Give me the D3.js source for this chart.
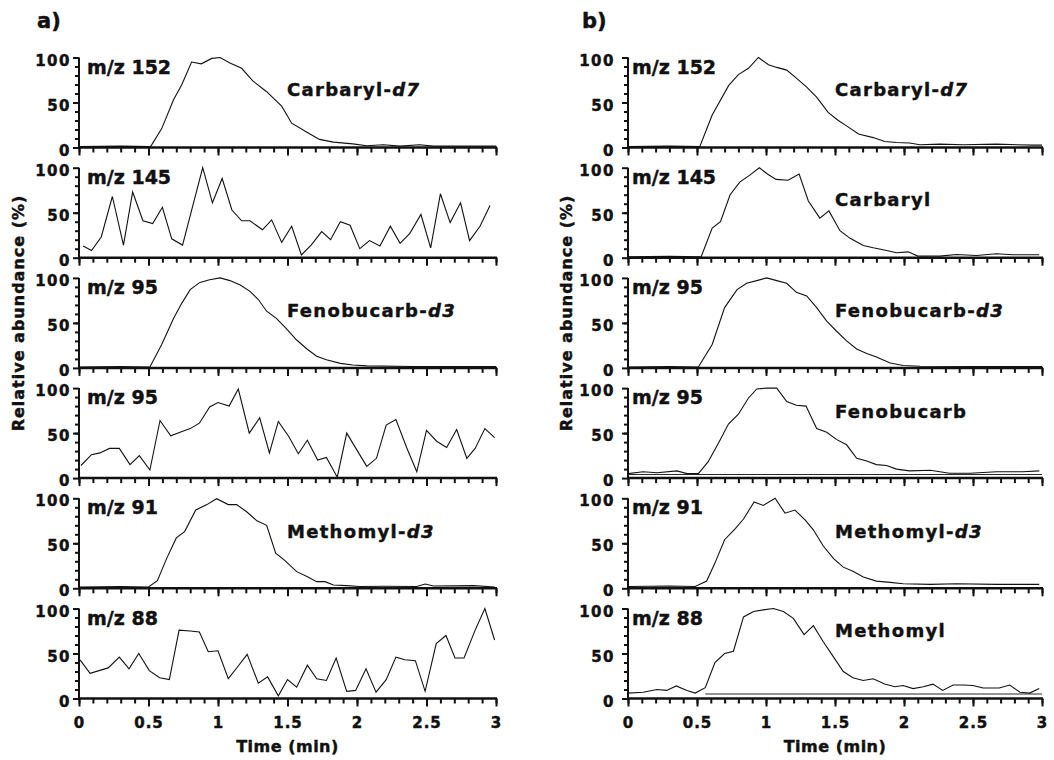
<!DOCTYPE html>
<html>
<head>
<meta charset="utf-8">
<script src="https://cdn.jsdelivr.net/npm/d3@7"></script>
<style>
  body { margin: 0; background: #fff; }
  svg text { font-family: "DejaVu Sans", sans-serif; font-weight: bold; fill: #111; stroke: #111; stroke-width: 0.45px; }
</style>
</head>
<body>
<svg id="chart" width="1054" height="760"></svg>
<script>
// traces, [time (min), relative abundance (%)]
// panel a
const a152 = [[0,1],[0.3,1.5],[0.515,1],[0.595,21],[0.68,53],[0.74,70],[0.81,95],[0.88,93],[0.955,99],[1.015,100],[1.086,94],[1.17,88],[1.25,74],[1.35,62],[1.458,46],[1.53,27],[1.64,17],[1.73,9],[1.83,6],[1.97,4],[2.07,2],[2.19,3],[2.31,1.5],[2.45,3],[2.55,1.5],[3,1.5]];
const a145 = [[0.03,13],[0.09,8],[0.16,23],[0.24,68],[0.32,14],[0.386,73],[0.46,41],[0.53,38],[0.6,56],[0.667,21],[0.745,14],[0.89,100],[0.96,61],[1.03,88],[1.1,53],[1.17,41],[1.23,41],[1.32,31],[1.386,42],[1.458,17],[1.53,35],[1.6,3],[1.67,14],[1.746,29],[1.81,20],[1.88,40],[1.95,36],[2.02,10],[2.09,19],[2.165,13],[2.24,35],[2.31,16],[2.38,27],[2.46,48],[2.53,11],[2.6,71],[2.67,39],[2.745,61],[2.81,19],[2.885,35],[2.957,58]];
const a95d3 = [[0,1],[0.3,1.5],[0.51,1],[0.595,26],[0.68,55],[0.74,72],[0.8,87],[0.87,95],[0.94,98],[1.015,100],[1.086,97],[1.16,92],[1.23,85],[1.29,76],[1.35,63],[1.42,55],[1.49,44],[1.566,31],[1.64,21],[1.71,13],[1.78,9],[1.88,5],[1.97,3.3],[2.07,2.2],[2.4,1.5],[3,1.5]];
const a95 = [[0.014,14],[0.09,26],[0.15,28],[0.22,33],[0.29,33],[0.367,15],[0.434,25],[0.51,9],[0.583,64],[0.66,47],[0.727,51],[0.8,55],[0.866,61],[0.94,79],[1.0,84],[1.08,80],[1.146,99],[1.225,50],[1.3,67],[1.37,28],[1.434,63],[1.51,46],[1.578,27],[1.643,42],[1.717,20],[1.78,23],[1.858,1],[1.926,50],[2.07,13],[2.14,22],[2.21,59],[2.28,65],[2.357,34],[2.43,7],[2.5,53],[2.573,41],[2.645,34],[2.717,54],[2.79,22],[2.85,33],[2.92,55],[2.99,45]];
const a91d3 = [[0,1.5],[0.3,2],[0.5,1.5],[0.564,8.5],[0.63,33],[0.7,56],[0.76,63],[0.84,87],[0.92,93],[0.99,99.5],[1.074,93],[1.134,93],[1.206,85],[1.28,75],[1.35,70],[1.415,39],[1.48,31],[1.566,18.5],[1.64,13],[1.71,7.4],[1.77,7.4],[1.83,3.7],[1.926,3],[2.02,2],[2.19,2.2],[2.43,2],[2.49,4.8],[2.55,2.6],[2.84,3],[2.99,1.5]];
const a88 = [[0.007,43],[0.08,28],[0.21,34],[0.29,46],[0.36,33],[0.43,50],[0.506,31],[0.58,23],[0.65,21],[0.72,76],[0.8,75],[0.866,74],[0.93,52],[1.0,53],[1.074,22],[1.14,35],[1.21,49],[1.29,17],[1.357,24],[1.434,3],[1.5,21],[1.566,12.5],[1.643,37],[1.71,22],[1.78,20],[1.85,45],[1.926,8],[1.99,9],[2.065,33],[2.137,7],[2.21,21],[2.28,46],[2.345,43],[2.42,42],[2.49,8],[2.57,61],[2.64,70],[2.705,45],[2.77,45],[2.85,76],[2.92,100],[2.99,65]];

// panel b
const b152 = [[0,1],[0.3,1.5],[0.52,1],[0.61,36],[0.73,69],[0.8,81],[0.873,88],[0.945,100],[1.018,92],[1.078,89],[1.15,86],[1.22,77],[1.295,67],[1.367,56],[1.45,39],[1.524,30],[1.584,24],[1.67,15],[1.777,11],[1.86,6.7],[1.946,5.6],[2.04,5],[2.115,3],[2.26,3.7],[2.43,3],[2.67,3.7],[2.93,2.6],[3,2.6]];
const b145 = [[0,1],[0.3,1.5],[0.53,1],[0.61,33],[0.67,40],[0.74,70],[0.81,84],[0.885,92],[0.952,100],[1.01,93],[1.073,87],[1.16,86],[1.24,93],[1.307,63],[1.39,44],[1.456,52],[1.536,30],[1.61,21.5],[1.705,13.5],[1.777,11],[1.874,8],[1.946,5.5],[2.03,6.5],[2.1,1.8],[2.26,1.8],[2.38,3.6],[2.525,2.5],[2.67,4.4],[2.79,3.3],[2.98,3.3]];
const b95d3 = [[0,1],[0.3,1.5],[0.51,1],[0.61,26],[0.7,67],[0.79,87],[0.86,94],[0.933,97],[1.005,100],[1.078,97],[1.15,94],[1.22,84],[1.295,80],[1.367,67],[1.44,52],[1.51,41],[1.584,30],[1.657,21],[1.73,16],[1.8,12],[1.9,5.5],[1.994,2.6],[2.115,1.8],[2.5,1.5],[3,1.5]];
const b95 = [[0,5],[0.11,7],[0.21,6],[0.355,8],[0.427,5],[0.51,5],[0.58,18],[0.656,39],[0.728,60],[0.8,71],[0.873,89],[0.933,99],[1.005,100],[1.078,100],[1.15,85],[1.22,81],[1.29,80],[1.367,55],[1.44,51],[1.51,43],[1.584,37],[1.657,22],[1.73,19],[1.8,15],[1.874,14],[1.946,10],[2.04,8],[2.19,8.7],[2.33,5.4],[2.48,5.4],[2.67,7],[2.86,7],[2.98,8]];
const b91d3 = [[0,2],[0.3,2.5],[0.487,2],[0.57,8],[0.63,28],[0.7,54],[0.776,66],[0.837,77],[0.914,96],[0.98,92],[1.066,100],[1.138,83.5],[1.21,87],[1.283,76],[1.343,65],[1.415,47],[1.49,33],[1.56,23.5],[1.63,19],[1.705,12.5],[1.8,8],[1.9,6.6],[1.994,5],[2.19,4.4],[2.38,5],[2.67,4.4],[2.98,4.4]];
const b88 = [[0,6],[0.11,7],[0.21,10],[0.28,9],[0.35,14],[0.427,9],[0.487,6],[0.56,12],[0.63,40],[0.7,50],[0.764,52.5],[0.837,90.6],[0.91,96.7],[0.98,98.5],[1.054,100],[1.126,96.7],[1.198,89],[1.276,71],[1.343,81],[1.415,63],[1.49,46],[1.56,30],[1.63,23],[1.705,20],[1.777,22],[1.86,16],[1.934,13],[1.994,14.5],[2.066,11],[2.14,13],[2.21,16],[2.28,9],[2.356,15],[2.43,15],[2.5,14.5],[2.573,11.6],[2.69,11.6],[2.766,15],[2.84,7],[2.91,6],[2.98,11]];

// flat background traces visible under some chromatograms
const b95base = [[0,4],[3,4]];
const b88base = [[0.56,5],[3,5]];

// labels
const mzA = ["m/z 152", "m/z 145", "m/z 95", "m/z 95", "m/z 91", "m/z 88"];
const mzB = ["m/z 152", "m/z 145", "m/z 95", "m/z 95", "m/z 91", "m/z 88"];
const nameA = [["Carbaryl-", "d7"], null, ["Fenobucarb-", "d3"], null, ["Methomyl-", "d3"], null];
const nameB = [["Carbaryl-", "d7"], ["Carbaryl", ""], ["Fenobucarb-", "d3"], ["Fenobucarb", ""], ["Methomyl-", "d3"], ["Methomyl", ""]];
const nameLevel = [57, 57, 57, 67, 56, 68];   // label baseline, in % of each row
const xTickLabels = [0, 0.5, 1, 1.5, 2, 2.5, 3];
const yTickLabels = [0, 50, 100];

const svg = d3.select("#chart");

const rowTop = i => 57.5 + i * 110.2;
const rowH = 90;

const panels = [
  {tag: "a)", tagX: 37, x0: 79, x1: 496, pad: 7, mzDx: 8, nameX: 287, labelX: 18,
   traces: [[a152], [a145], [a95d3], [a95], [a91d3], [a88]], mz: mzA, names: nameA},
  {tag: "b)", tagX: 582, x0: 628, x1: 1042, pad: 12, mzDx: 4, nameX: 835, labelX: 566,
   traces: [[b152], [b145], [b95d3], [b95, b95base], [b91d3], [b88, b88base]], mz: mzB, names: nameB}
];

panels.forEach(p => {
  var x = d3.scaleLinear().domain([0, 3]).range([p.x0, p.x1]);

  svg.append("text").attr("x", p.tagX).attr("y", 28)
    .style("font-size", "21px").text(p.tag);

  for (var i = 0; i < 6; i++) {
    var top = rowTop(i);
    var y = d3.scaleLinear().domain([0, 100]).range([top + rowH, top]);
    var g = svg.append("g");

    // traces
    var line = d3.line().x(d => x(d[0])).y(d => y(d[1]));
    p.traces[i].forEach((t, k) => {
      g.append("path").datum(t).attr("d", line)
        .attr("fill", "none").attr("stroke", "#111")
        .attr("stroke-width", k == 0 ? 1.1 : 0.9);
    });

    // x axis: minor ticks every 0.1, longer ones every 0.5
    var minorX = g.append("g").attr("transform", "translate(0," + (top + rowH) + ")")
      .call(d3.axisBottom(x).tickValues(d3.range(0, 3.01, 0.1)).tickSize(5).tickFormat(""));
    var majorX = g.append("g").attr("transform", "translate(0," + (top + rowH) + ")")
      .call(d3.axisBottom(x).tickValues(xTickLabels).tickSize(8).tickPadding(11)
        .tickFormat(i == 5 ? (d => d) : ""));
    majorX.selectAll("text").style("font-size", "15px").style("letter-spacing", "1px");

    // y axis
    var minorY = g.append("g").attr("transform", "translate(" + p.x0 + ",0)")
      .call(d3.axisLeft(y).tickValues(d3.range(10, 100, 10)).tickSize(4).tickFormat(""));
    var majorY = g.append("g").attr("transform", "translate(" + p.x0 + ",0)")
      .call(d3.axisLeft(y).tickValues(yTickLabels).tickSize(6).tickPadding(p.pad - 5));
    majorY.selectAll("text").style("font-size", "15px").style("letter-spacing", "1.5px")
      .attr("dy", "0.5em");

    [minorX, majorX, minorY, majorY].forEach(a => {
      a.select(".domain").remove();
      a.selectAll("line").attr("stroke", "#111").attr("stroke-width", 2);
    });
    // axis lines drawn by hand, a bit heavier like the print
    g.append("line").attr("x1", p.x0).attr("x2", p.x1 + 1)
      .attr("y1", top + rowH).attr("y2", top + rowH)
      .attr("stroke", "#111").attr("stroke-width", 2.5);
    g.append("line").attr("x1", p.x0).attr("x2", p.x0)
      .attr("y1", top).attr("y2", top + rowH)
      .attr("stroke", "#111").attr("stroke-width", 2);

    // ion label
    g.append("text").attr("x", p.x0 + p.mzDx).attr("y", top + 16)
      .style("font-size", "19px").text(p.mz[i]);

    // compound label
    if (p.names[i]) {
      var t = g.append("text").attr("x", p.nameX).attr("y", y(nameLevel[i]))
        .style("font-size", "18px").style("letter-spacing", "1.3px");
      t.append("tspan").text(p.names[i][0]);
      t.append("tspan").style("font-style", "italic").text(p.names[i][1]);
    }
  }

  // axis titles
  svg.append("text")
    .attr("transform", "translate(" + p.labelX + ",313) rotate(-90)")
    .attr("text-anchor", "middle").attr("dy", "0.35em")
    .style("font-size", "16px").style("letter-spacing", "1px")
    .text("Relative abundance (%)");
  svg.append("text")
    .attr("x", (p.x0 + p.x1) / 2).attr("y", 752)
    .attr("text-anchor", "middle")
    .style("font-size", "16px").style("letter-spacing", "0.5px")
    .text("Time (min)");
});
</script>
</body>
</html>
